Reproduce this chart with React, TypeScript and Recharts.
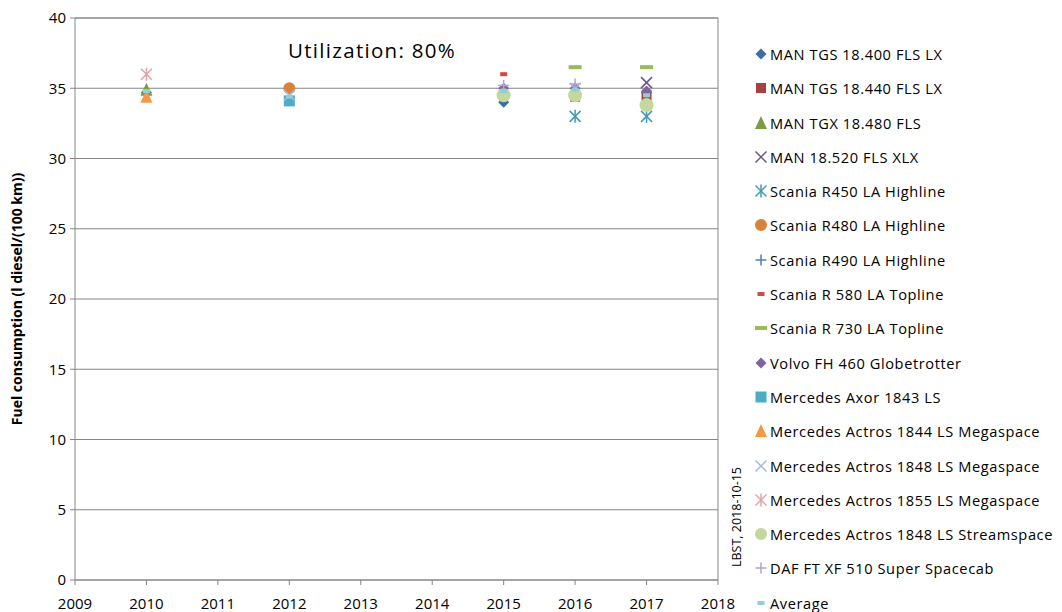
import React from 'react'
import {
  ScatterChart,
  Scatter,
  XAxis,
  YAxis,
  CartesianGrid,
  ReferenceLine,
  Label,
} from 'recharts'

const FONT = '"Open Sans", Lato, sans-serif'

const YEAR_TICKS = [2009, 2010, 2011, 2012, 2013, 2014, 2015, 2016, 2017, 2018]
const VALUE_TICKS = [0, 5, 10, 15, 20, 25, 30, 35, 40]

// values, l diesel / 100 km
const manTgs400 = [{ year: 2010, value: 34.7 }, { year: 2015, value: 34.0 }]
const manTgs440 = [{ year: 2016, value: 34.4 }, { year: 2017, value: 34.4 }]
const manTgx480 = [{ year: 2010, value: 34.9 }]
const man520 = [{ year: 2017, value: 35.4 }]
const scaniaR450 = [{ year: 2016, value: 33.0 }, { year: 2017, value: 33.0 }]
const scaniaR480 = [{ year: 2012, value: 35.0 }]
const scaniaR490 = [{ year: 2017, value: 34.7 }]
const scaniaR580 = [{ year: 2015, value: 36.0 }]
const scaniaR730 = [{ year: 2016, value: 36.5 }, { year: 2017, value: 36.5 }]
const volvoFh460 = [{ year: 2015, value: 35.0 }, { year: 2016, value: 35.0 }, { year: 2017, value: 34.8 }]
const axor1843 = [{ year: 2012, value: 34.1 }]
const actros1844 = [{ year: 2010, value: 34.4 }]
const actros1848 = [{ year: 2012, value: 34.5 }, { year: 2016, value: 35.0 }]
const actros1855 = [{ year: 2010, value: 36.0 }]
const actros1848Stream = [{ year: 2015, value: 34.5 }, { year: 2016, value: 34.5 }, { year: 2017, value: 33.8 }]
const dafXf510 = [{ year: 2015, value: 35.2 }, { year: 2016, value: 35.3 }]
const average = [
  { year: 2010, value: 34.8 },
  { year: 2012, value: 34.4 },
  { year: 2015, value: 34.8 },
  { year: 2016, value: 34.9 },
  { year: 2017, value: 34.5 },
]

type Kind = 'diamond' | 'square' | 'triangle' | 'x' | 'asterisk' | 'circle' | 'plus' | 'dash' | 'longdash'

const SERIES: { name: string; data: { year: number; value: number }[]; kind: Kind; color: string; size: number }[] = [
  { name: 'MAN TGS 18.400 FLS LX', data: manTgs400, kind: 'diamond', color: '#3d6ca8', size: 11 },
  { name: 'MAN TGS 18.440 FLS LX', data: manTgs440, kind: 'square', color: '#a8403e', size: 10 },
  { name: 'MAN TGX 18.480 FLS', data: manTgx480, kind: 'triangle', color: '#7b9b44', size: 12 },
  { name: 'MAN 18.520 FLS XLX', data: man520, kind: 'x', color: '#6a5290', size: 11 },
  { name: 'Scania R450 LA Highline', data: scaniaR450, kind: 'asterisk', color: '#3f9ab3', size: 11 },
  { name: 'Scania R480 LA Highline', data: scaniaR480, kind: 'circle', color: '#d8823a', size: 12 },
  { name: 'Scania R490 LA Highline', data: scaniaR490, kind: 'plus', color: '#4a7ebb', size: 11 },
  { name: 'Scania R 580 LA Topline', data: scaniaR580, kind: 'dash', color: '#d04a48', size: 7 },
  { name: 'Scania R 730 LA Topline', data: scaniaR730, kind: 'longdash', color: '#9bbb59', size: 13 },
  { name: 'Volvo FH 460 Globetrotter', data: volvoFh460, kind: 'diamond', color: '#8064a2', size: 11 },
  { name: 'Mercedes Axor 1843 LS', data: axor1843, kind: 'square', color: '#4bacc6', size: 11 },
  { name: 'Mercedes Actros 1844 LS Megaspace', data: actros1844, kind: 'triangle', color: '#f79646', size: 12 },
  { name: 'Mercedes Actros 1848 LS Megaspace', data: actros1848, kind: 'x', color: '#a5b8dc', size: 11 },
  { name: 'Mercedes Actros 1855 LS Megaspace', data: actros1855, kind: 'asterisk', color: '#e0a3a2', size: 11 },
  { name: 'Mercedes Actros 1848 LS Streamspace', data: actros1848Stream, kind: 'circle', color: '#c4d79e', size: 14 },
  { name: 'DAF FT XF 510 Super Spacecab', data: dafXf510, kind: 'plus', color: '#b3a4c9', size: 11 },
  { name: 'Average', data: average, kind: 'dash', color: '#93cddd', size: 7 },
]

function Marker({ kind, color, size, cx, cy }: { kind: Kind; color: string; size: number; cx: number; cy: number }) {
  const h = size / 2
  switch (kind) {
    case 'diamond':
      return <polygon points={`${cx},${cy - h} ${cx + h},${cy} ${cx},${cy + h} ${cx - h},${cy}`} fill={color} />
    case 'square':
      return <rect x={cx - h} y={cy - h} width={size} height={size} fill={color} />
    case 'triangle':
      return <polygon points={`${cx},${cy - h - 1} ${cx + h},${cy + h} ${cx - h},${cy + h}`} fill={color} />
    case 'circle':
      return <circle cx={cx} cy={cy} r={h} fill={color} />
    case 'x':
      return (
        <g stroke={color} strokeWidth={1.5}>
          <line x1={cx - h} y1={cy - h} x2={cx + h} y2={cy + h} />
          <line x1={cx - h} y1={cy + h} x2={cx + h} y2={cy - h} />
        </g>
      )
    case 'plus':
      return (
        <g stroke={color} strokeWidth={1.5}>
          <line x1={cx - h} y1={cy} x2={cx + h} y2={cy} />
          <line x1={cx} y1={cy - h} x2={cx} y2={cy + h} />
        </g>
      )
    case 'asterisk':
      return (
        <g stroke={color} strokeWidth={1.5}>
          <line x1={cx - h} y1={cy - h} x2={cx + h} y2={cy + h} />
          <line x1={cx - h} y1={cy + h} x2={cx + h} y2={cy - h} />
          <line x1={cx} y1={cy - h - 1} x2={cx} y2={cy + h + 1} />
        </g>
      )
    case 'dash':
      return <rect x={cx - h} y={cy - 2} width={size} height={4} fill={color} />
    case 'longdash':
      return <rect x={cx - h} y={cy - 2} width={size} height={4} fill={color} />
  }
  return null
}

function LegendBox() {
  return (
    <div style={{ position: 'absolute', left: 750, top: 43, fontFamily: FONT, fontSize: 14.6, letterSpacing: 0.6, color: '#000' }}>
      {SERIES.map((s) => (
        <div key={s.name} style={{ height: 34.3, display: 'flex', alignItems: 'flex-start' }}>
          <svg width={20} height={22} style={{ flex: 'none' }}>
            <Marker kind={s.kind} color={s.color} size={Math.min(s.size, 12)} cx={11} cy={11} />
          </svg>
          <span style={{ lineHeight: '22px', whiteSpace: 'nowrap' }}>{s.name}</span>
        </div>
      ))}
    </div>
  )
}

export default function App() {
  return (
    <div style={{ position: 'absolute', left: 0, top: 0, width: 1062, height: 612, background: '#fff', fontFamily: FONT }}>
      <ScatterChart width={1062} height={612} margin={{ top: 18, right: 344, bottom: 7, left: 35 }}>
        <CartesianGrid horizontal vertical={false} stroke="#868686" />
        <XAxis
          type="number"
          dataKey="year"
          domain={[2009, 2018]}
          ticks={YEAR_TICKS}
          interval={0}
          height={25}
          stroke="#868686"
          tickSize={5}
          tickMargin={13}
          tick={{ fontSize: 15, fill: '#000', fontFamily: FONT }}
          allowDuplicatedCategory
        />
        <YAxis
          type="number"
          dataKey="value"
          domain={[0, 40]}
          ticks={VALUE_TICKS}
          interval={0}
          width={40}
          stroke="#868686"
          tickSize={5}
          tickMargin={4}
          tick={{ fontSize: 15, fill: '#000', fontFamily: FONT }}
        >
          <Label
            value="Fuel consumption (l diesel/(100 km))"
            angle={-90}
            position="insideLeft"
            offset={-18}
            style={{ textAnchor: 'middle', fontSize: 14, fontWeight: 700, fill: '#000', fontFamily: FONT }}
          />
        </YAxis>
        <ReferenceLine y={40} stroke="#868686" />
        <ReferenceLine x={2018} stroke="#868686" />
        {SERIES.map((s) => (
          <Scatter
            key={s.name}
            name={s.name}
            data={s.data}
            isAnimationActive={false}
            shape={(p: any) => <Marker kind={s.kind} color={s.color} size={s.size} cx={p.cx} cy={p.cy} />}
          />
        ))}
      </ScatterChart>
      <div style={{ position: 'absolute', left: 288, top: 36, fontSize: 20.5, letterSpacing: 1.3, color: '#000', fontFamily: FONT }}>
        Utilization: 80%
      </div>
      <div
        style={{
          position: 'absolute',
          left: 736,
          top: 517,
          transform: 'translate(-50%, -50%) rotate(-90deg)',
          fontSize: 12.5,
          color: '#000',
          whiteSpace: 'nowrap',
          fontFamily: FONT,
        }}
      >
        LBST, 2018-10-15
      </div>
      <LegendBox />
    </div>
  )
}
